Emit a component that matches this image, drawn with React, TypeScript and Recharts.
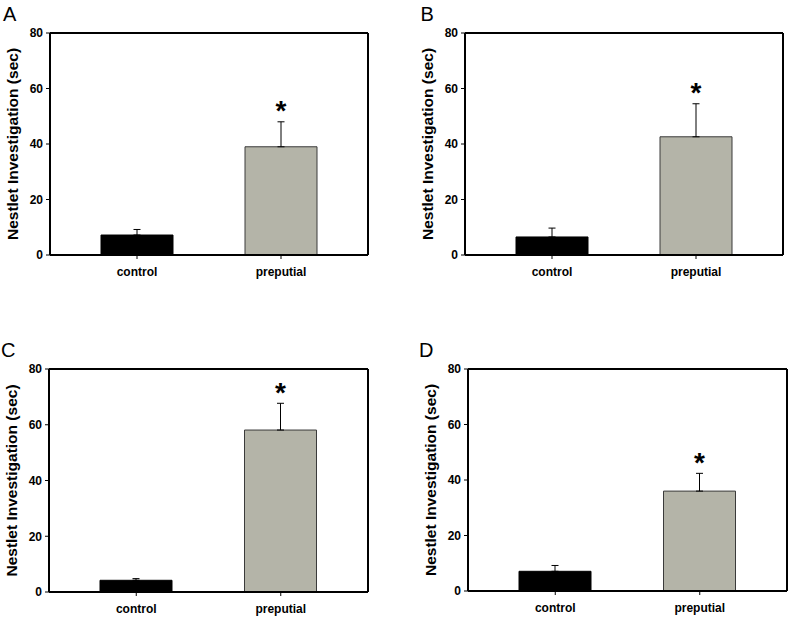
import React from 'react';
import { BarChart, Bar, XAxis, YAxis, ErrorBar, Cell, LabelList, Label } from 'recharts';

// ---- data ----
const categories = ['control', 'preputial'];
const yTicks = [0, 20, 40, 60, 80];
const significance = ['', '*'];

const valuesA = [7.2, 39.0];
const errorsA = [2.0, 9.0];
const valuesB = [6.5, 42.6];
const errorsB = [3.2, 11.9];
const valuesC = [4.2, 58.1];
const errorsC = [0.6, 9.6];
const valuesD = [7.1, 36.0];
const errorsD = [2.1, 6.4];

const barColors = ['#000000', '#b4b4a8'];
const barStrokes = ['#000000', '#3a3a3a'];

const FONT = '"Liberation Sans", Arial, Helvetica, sans-serif';
const Y_LABEL = 'Nestlet Investigation (sec)';

type PanelProps = {
  values: number[];
  errors: number[];
  plotLeft: number;
  plotTop: number;
  plotWidth: number;
  plotHeight: number;
};

function Panel({ values, errors, plotLeft, plotTop, plotWidth, plotHeight }: PanelProps) {
  const Y_W = 50;
  const M_TOP = 33;
  const M_RIGHT = 12;
  const X_H = 30;
  const M_BOTTOM = 15;
  const width = Y_W + plotWidth + M_RIGHT;
  const height = M_TOP + plotHeight + X_H + M_BOTTOM;
  const data = categories.map((c, i) => ({
    cat: c,
    value: values[i],
    err: [0, errors[i]],
    sig: significance[i],
  }));

  const renderStar = (props: any) => {
    const { x, y, width: w, height: h, index, value } = props;
    if (!value) return null;
    const v = values[index];
    const e = errors[index];
    const errPx = v > 0 ? (Number(h) * e) / v : 0;
    const cy = Number(y) - errPx - 17;
    return (
      <text
        x={Number(x) + Number(w) / 2}
        y={cy + 15.5}
        textAnchor="middle"
        fontFamily={FONT}
        fontWeight="bold"
        fontSize={28}
        fill="#000"
      >
        {value}
      </text>
    );
  };

  const renderYLabel = () => {
    const cx = Y_W - 38;
    const cy = M_TOP + plotHeight / 2;
    return (
      <text
        x={cx}
        y={cy}
        transform={`rotate(-90 ${cx} ${cy})`}
        textAnchor="middle"
        dominantBaseline="central"
        fontFamily={FONT}
        fontWeight="bold"
        fontSize={15.5}
        fill="#000"
      >
        {Y_LABEL}
      </text>
    );
  };

  const frame = { stroke: '#000', strokeWidth: 2 };

  return (
    <div style={{ position: 'absolute', left: plotLeft - Y_W, top: plotTop - M_TOP, width, height }}>
      <BarChart
        width={width}
        height={height}
        data={data}
        margin={{ top: M_TOP, right: M_RIGHT, left: 0, bottom: M_BOTTOM }}
      >
        <XAxis
          dataKey="cat"
          height={X_H}
          padding={{ left: 15, right: 15 }}
          axisLine={frame}
          tickLine={{ stroke: '#000', strokeWidth: 1 }}
          tickSize={4}
          tickMargin={8}
          interval={0}
          tick={{ fill: '#000', fontSize: 12, fontWeight: 'bold', fontFamily: FONT }}
        />
        <XAxis
          xAxisId="top"
          dataKey="cat"
          orientation="top"
          mirror
          tick={false}
          tickLine={false}
          axisLine={frame}
        />
        <YAxis
          width={Y_W}
          type="number"
          domain={[0, 80]}
          ticks={yTicks}
          interval={0}
          axisLine={frame}
          tickLine={{ stroke: '#000', strokeWidth: 1 }}
          tickSize={4}
          tickMargin={3}
          tick={{ fill: '#000', fontSize: 12, fontWeight: 'bold', fontFamily: FONT }}
        >
          <Label content={renderYLabel} />
        </YAxis>
        <YAxis
          yAxisId="right"
          orientation="right"
          mirror
          type="number"
          domain={[0, 80]}
          tick={false}
          tickLine={false}
          axisLine={frame}
        />
        <Bar dataKey="value" barSize={72} isAnimationActive={false}>
          {data.map((d, i) => (
            <Cell key={d.cat} fill={barColors[i]} stroke={barStrokes[i]} strokeWidth={1} />
          ))}
          <ErrorBar dataKey="err" direction="y" width={3.5} stroke="#000" strokeWidth={1} isAnimationActive={false} />
          <LabelList dataKey="sig" content={renderStar} />
        </Bar>
      </BarChart>
    </div>
  );
}

const letterStyle = { fontFamily: FONT, fontSize: 20, fill: '#000' };

export default function App() {
  return (
    <div
      style={{
        position: 'absolute',
        left: 0,
        top: 0,
        width: 800,
        height: 624,
        overflow: 'hidden',
        background: '#fff',
      }}
    >
      <svg width={800} height={624} style={{ position: 'absolute', left: 0, top: 0 }}>
        <text x={3} y={21} {...letterStyle}>A</text>
        <text x={420.5} y={20.5} {...letterStyle}>B</text>
        <text x={1} y={357} {...letterStyle}>C</text>
        <text x={419} y={357} {...letterStyle}>D</text>
      </svg>
      <Panel values={valuesA} errors={errorsA} plotLeft={50} plotTop={33} plotWidth={318} plotHeight={222} />
      <Panel values={valuesB} errors={errorsB} plotLeft={465} plotTop={33} plotWidth={318} plotHeight={222} />
      <Panel values={valuesC} errors={errorsC} plotLeft={49} plotTop={369} plotWidth={319} plotHeight={223} />
      <Panel values={valuesD} errors={errorsD} plotLeft={468} plotTop={369} plotWidth={319} plotHeight={222} />
    </div>
  );
}
